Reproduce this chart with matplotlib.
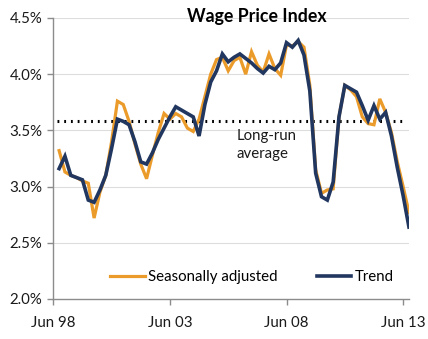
import numpy as np
import matplotlib
matplotlib.use("Agg")
import matplotlib.pyplot as plt
from matplotlib.ticker import FuncFormatter

plt.rcParams['font.family'] = ['Lato', 'DejaVu Sans']

# Quarterly data, Sep 98 .. Sep 13 (quarter index 1..61, Jun 98 = 0)
quarters = np.arange(1, 62)

seasonally_adjusted = [
    3.32, 3.13, 3.10, 3.08, 3.05, 3.03, 2.72, 2.95, 3.10, 3.40,
    3.76, 3.73, 3.58, 3.38, 3.20, 3.07, 3.28, 3.48, 3.65, 3.60,
    3.65, 3.62, 3.52, 3.49, 3.60, 3.80, 4.00, 4.13, 4.15, 4.03,
    4.12, 4.15, 4.00, 4.20, 4.08, 4.02, 4.18, 4.05, 3.99, 4.26,
    4.25, 4.29, 4.24, 3.90, 3.15, 2.94, 2.97, 2.98, 3.62, 3.90,
    3.86, 3.80, 3.62, 3.56, 3.55, 3.78, 3.66, 3.48, 3.22, 3.00,
    2.77,
]

trend = [
    3.16, 3.27, 3.10, 3.08, 3.06, 2.88, 2.86, 2.97, 3.10, 3.34,
    3.60, 3.58, 3.55, 3.40, 3.22, 3.20, 3.30, 3.42, 3.52, 3.62,
    3.71, 3.68, 3.65, 3.62, 3.45, 3.73, 3.93, 4.03, 4.18, 4.11,
    4.15, 4.18, 4.14, 4.10, 4.05, 4.01, 4.07, 4.04, 4.10, 4.28,
    4.24, 4.30, 4.17, 3.85, 3.12, 2.91, 2.88, 3.04, 3.62, 3.90,
    3.87, 3.84, 3.72, 3.59, 3.72, 3.60, 3.66, 3.45, 3.17, 2.92,
    2.64,
]

long_run_average = 3.58

tick_positions = [0, 20, 40, 60]
tick_labels = ["Jun 98", "Jun 03", "Jun 08", "Jun 13"]
y_ticks = [2.0, 2.5, 3.0, 3.5, 4.0, 4.5]

orange = '#EB9B2A'
navy = '#21375F'

fig = plt.figure(figsize=(4.28, 3.39), dpi=100)
ax = fig.add_axes([0.1245, 0.118, 0.831, 0.829])

ax.set_xlim(0, 61)
ax.set_ylim(2.0, 4.5)

for y in y_ticks[1:]:
    ax.axhline(y, color='#DDDDDD', lw=0.8, zorder=0)

ax.hlines(long_run_average, 0.7, 60.2, colors='black', linestyles=(0, (0.6, 1.6)),
          lw=2.2, zorder=2)

ax.plot(quarters, seasonally_adjusted, color=orange, lw=2.3,
        label='Seasonally adjusted', zorder=3, solid_joinstyle='miter')
ax.plot(quarters, trend, color=navy, lw=2.6, label='Trend', zorder=4,
        solid_joinstyle='miter')

ax.text(31.5, 3.45, 'Long-run', fontsize=10.8, ha='left', va='center', color='#1a1a1a')
ax.text(31.5, 3.29, 'average', fontsize=10.8, ha='left', va='center', color='#1a1a1a')

fig.text(0.601, 0.951, 'Wage Price Index', fontsize=12.8, fontweight='bold',
         ha='center', va='center', color='black')

ax.set_yticks(y_ticks)
ax.yaxis.set_major_formatter(FuncFormatter(lambda v, p: f"{v:.1f}%"))
ax.set_xticks(tick_positions)
ax.set_xticklabels(tick_labels)

for s in ['top', 'right']:
    ax.spines[s].set_visible(False)
for s in ['left', 'bottom']:
    ax.spines[s].set_color('#8C8C8C')
    ax.spines[s].set_linewidth(1.0)

ax.tick_params(axis='both', colors='#8C8C8C', labelcolor='#1a1a1a',
               labelsize=10.8, length=4, width=1.0, direction='out')
ax.tick_params(axis='y', pad=4)
ax.tick_params(axis='x', pad=8)

ax.legend(loc='center', bbox_to_anchor=(0.559, 0.078), ncol=2, frameon=False,
          fontsize=10.8, handlelength=2.3, handletextpad=0.25, columnspacing=2.6)

fig.savefig('out.png', dpi=100)
